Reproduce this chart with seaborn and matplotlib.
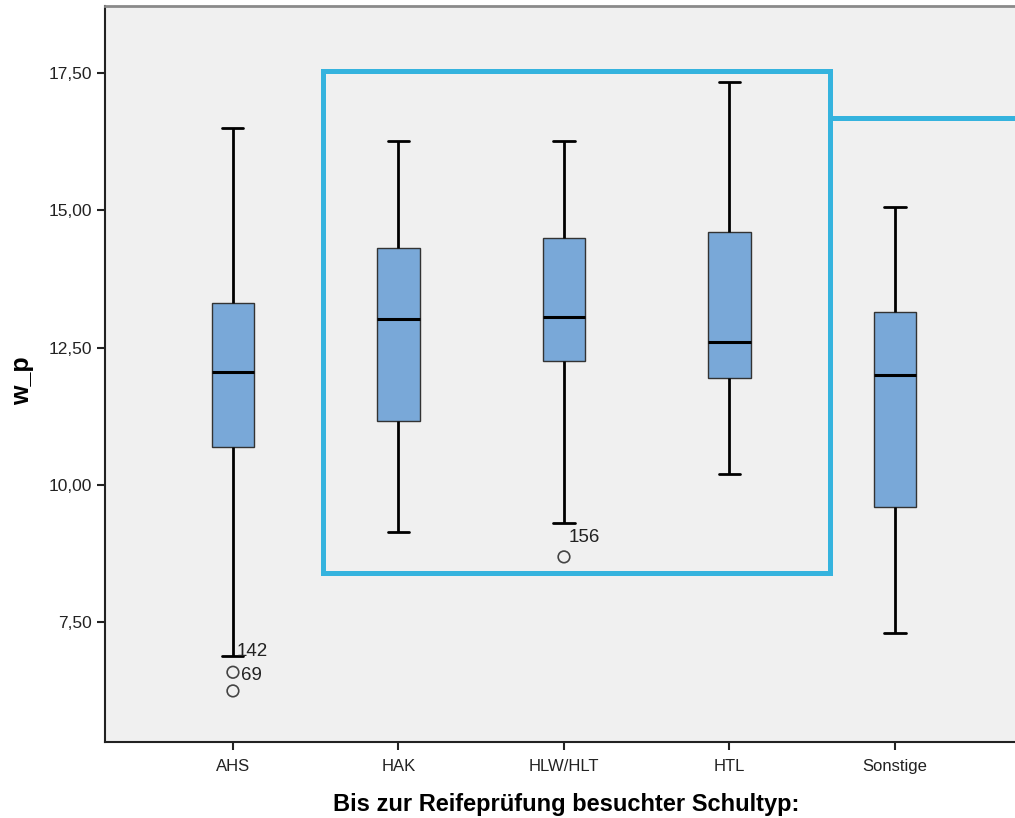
import numpy as np
import pandas as pd
import matplotlib
matplotlib.use("Agg")
import matplotlib.pyplot as plt
import seaborn as sns
from matplotlib.patches import Rectangle
from matplotlib.ticker import FixedLocator

# ---- data ----
categories = ["AHS", "HAK", "HLW/HLT", "HTL", "Sonstige"]
whisker_low = [6.88, 9.15, 9.31, 10.20, 7.30]
q1 = [10.70, 11.17, 12.26, 11.95, 9.60]
median = [12.05, 13.03, 13.06, 12.61, 12.00]
q3 = [13.32, 14.32, 14.50, 14.61, 13.14]
whisker_high = [16.50, 16.26, 16.26, 17.34, 15.06]
outliers = [[6.25, 6.59], [], [8.69], [], []]
outlier_labels = [("142", 0, 6.88), ("69", 0, 6.59), ("156", 2, 8.69)]
y_ticks = [7.5, 10.0, 12.5, 15.0, 17.5]
y_tick_labels = ["7,50", "10,00", "12,50", "15,00", "17,50"]

# build a sample per group whose quartiles / whiskers reproduce the read summary
rows = []
for i, cat in enumerate(categories):
    k = len(outliers[i])
    a = k + 2
    vals = (list(outliers[i]) + [whisker_low[i]] + [q1[i]] * a + [median[i]]
            + [q3[i]] * a + [whisker_high[i]] * (1 + k))
    for v in vals:
        rows.append({"Schultyp": cat, "w_p": v})
df = pd.DataFrame(rows)

sns.set_theme(style="white")
plt.rcParams["font.family"] = ["Liberation Sans", "DejaVu Sans"]

fig = plt.figure(figsize=(10.15, 8.18), dpi=100)
ax = fig.add_axes([105 / 1015, 1 - 742 / 818, 1 - 105 / 1015, (742 - 6) / 818])
ax.set_facecolor("#F0F0F0")

sns.boxplot(
    data=df, x="Schultyp", y="w_p", order=categories, ax=ax,
    color="#79A8D8", saturation=1, width=0.255, whis=1.5,
    linecolor="#333333", linewidth=1.0,
    fliersize=0,
    medianprops=dict(color="black", linewidth=2.2),
    whiskerprops=dict(color="black", linewidth=2.0),
    capprops=dict(color="black", linewidth=2.0),
)

# outliers as open circles
for i, outs in enumerate(outliers):
    if outs:
        ax.scatter([i] * len(outs), outs, s=70, facecolors="none",
                   edgecolors="#444444", linewidths=1.2, zorder=5)

label_offsets = {"142": (0.02, 0.08), "69": (0.05, -0.06), "156": (0.03, 0.36)}
for txt, i, yv in outlier_labels:
    dx, dy = label_offsets[txt]
    ax.text(i + dx, yv + dy, txt, fontsize=13.5, color="#222222",
            ha="left", va="center", zorder=6)

ax.set_xlim(-0.773, 4.725)
ax.set_ylim(5.32, 18.72)
ax.yaxis.set_major_locator(FixedLocator(y_ticks))
ax.set_yticklabels(y_tick_labels)
ax.tick_params(axis="both", which="major", length=6, width=1.5, color="#222222",
               labelsize=12.5, labelcolor="#222222", bottom=True, left=True)
ax.tick_params(axis="x", pad=6, labelsize=12)

for s in ["left", "bottom"]:
    ax.spines[s].set_color("#222222")
    ax.spines[s].set_linewidth(1.5)
ax.spines["top"].set_color("#8a8a8a")
ax.spines["top"].set_linewidth(2.0)
ax.spines["right"].set_visible(False)

ax.set_xlabel("Bis zur Reifeprüfung besuchter Schultyp:", fontsize=17,
              fontweight="bold", color="black")
ax.xaxis.set_label_coords((566 - 105) / 910, -(805 - 742) / 736)
ax.xaxis.label.set_va("center")
ax.set_ylabel("w_p", fontsize=18, fontweight="bold", color="black")
ax.yaxis.set_label_coords((22 - 105) / 910, (742 - 381) / 736)
ax.yaxis.label.set_va("center")

# highlight rectangle and connector line (annotation overlay)
hl = "#35B3DE"
ax.add_patch(Rectangle((0.544, 8.40), 3.063, 9.14, fill=False,
                       edgecolor=hl, linewidth=3.6, zorder=7))
ax.plot([3.607, 5.0], [16.68, 16.68], color=hl, linewidth=3.6,
        solid_capstyle="butt", zorder=7, clip_on=True)

fig.savefig("out.png", dpi=100)
